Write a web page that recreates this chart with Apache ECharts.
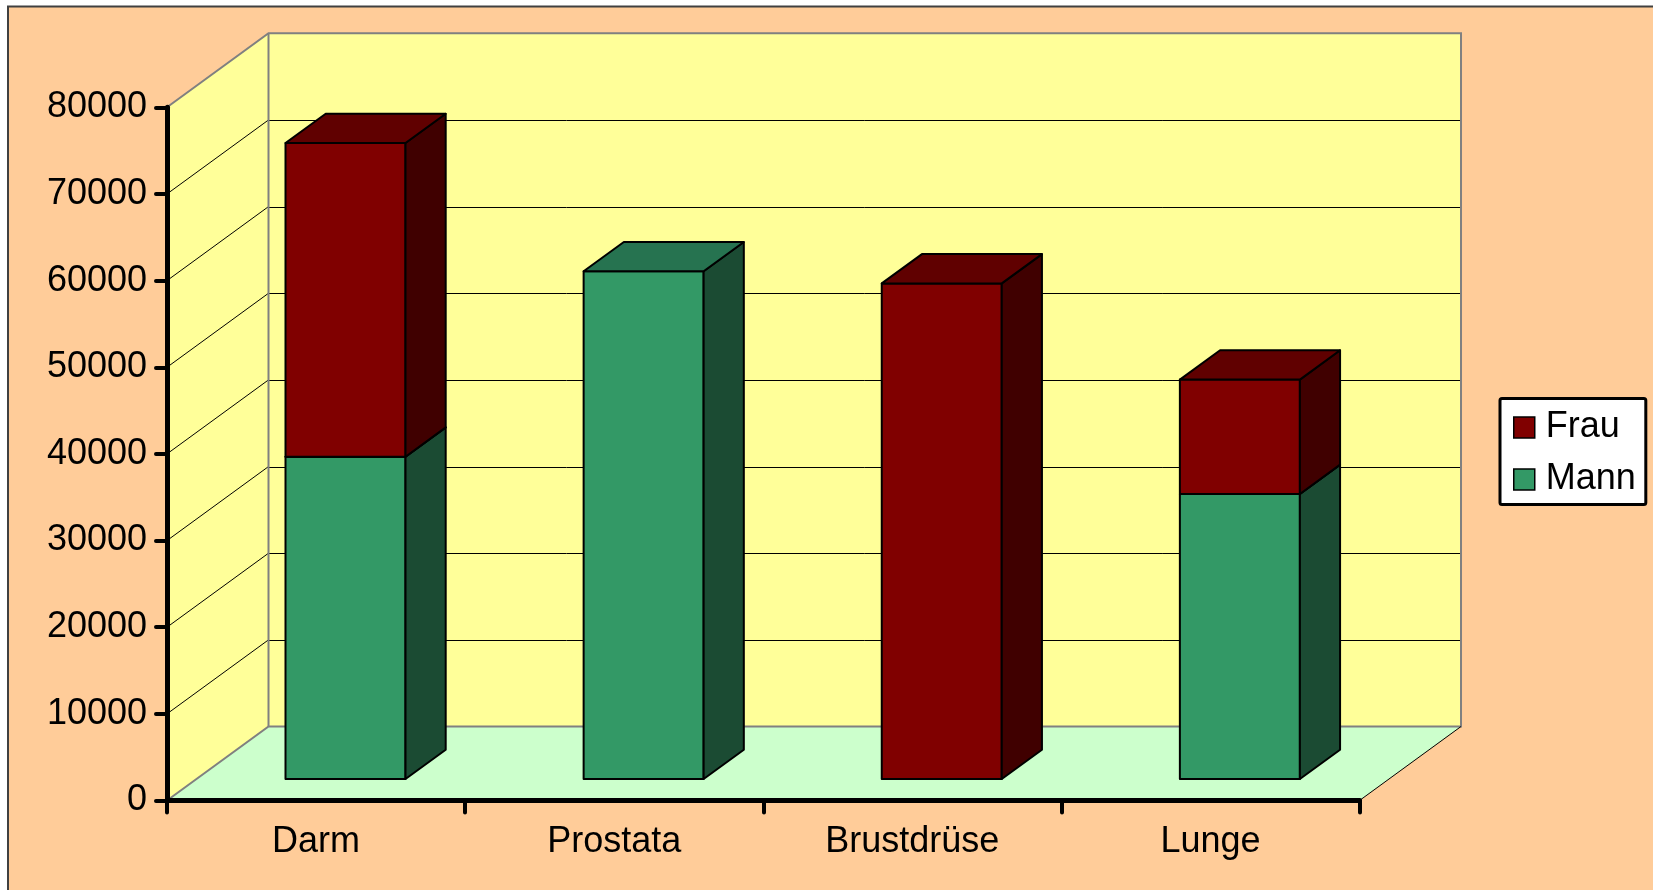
<!DOCTYPE html>
<html>
<head>
<meta charset="utf-8">
<script src="https://cdn.jsdelivr.net/npm/echarts@6/dist/echarts.min.js"></script>
<style>
  html, body { margin: 0; padding: 0; background: #ffffff; }
  #chart { width: 1653px; height: 890px; }
</style>
</head>
<body>
<div id="chart"></div>
<script>
// ---- data ----
const categories = ['Darm', 'Prostata', 'Brustdrüse', 'Lunge'];
const mann = [37200, 58600, 0, 32900];
const frau = [36200, 0, 57200, 13200];
const seriesNames = ['Frau', 'Mann'];
const yAxisMax = 80000;
const yAxisStep = 10000;

// ---- styling (3D look) ----
const FONT = 'Liberation Sans, Arial, sans-serif';
const DEPTH_X = 0.3405;   // depth offset as fraction of category band width
const DEPTH_Y = -0.2482;
const BAR_FRONT = 0.29;   // bar front plane (fraction of depth)
const BAR_DEPTH = 0.396;  // bar depth (fraction of depth)
const BAR_WIDTH = 0.4025; // bar width as fraction of band width
const COLORS = {
  Mann: { front: '#339966', side: '#1B4B33', top: '#267350' },
  Frau: { front: '#800000', side: '#400000', top: '#600000' }
};

const chart = echarts.init(document.getElementById('chart'), null, { renderer: 'canvas' });

function px(v) { return Math.round(v) + 0.5; }

function wallsRender(params, api) {
  const bw = api.size([1, 0])[0];
  const c0 = api.coord([0, 0]);
  const x0 = c0[0] - bw / 2;
  const x1 = x0 + bw * categories.length;
  const yb = c0[1];
  const yt = api.coord([0, yAxisMax])[1];
  const dx = DEPTH_X * bw, dy = DEPTH_Y * bw;
  const children = [];
  children.push({ type: 'polygon', shape: { points: [[x0, yb], [x0, yt], [x0 + dx, yt + dy], [x0 + dx, yb + dy]] },
    style: { fill: '#FFFF99', stroke: null } });
  children.push({ type: 'polygon', shape: { points: [[x0 + dx, yt + dy], [x1 + dx, yt + dy], [x1 + dx, yb + dy], [x0 + dx, yb + dy]] },
    style: { fill: '#FFFF99', stroke: null } });
  children.push({ type: 'polygon', shape: { points: [[x0, yb], [x1, yb], [x1 + dx, yb + dy], [x0 + dx, yb + dy]] },
    style: { fill: '#CCFFCC', stroke: null } });
  for (let v = yAxisStep; v < yAxisMax; v += yAxisStep) {
    const y = api.coord([0, v])[1];
    children.push({ type: 'line', shape: { x1: x0 + dx, y1: px(y + dy), x2: x1 + dx, y2: px(y + dy) },
      style: { stroke: '#000000', lineWidth: 1 } });
    children.push({ type: 'line', shape: { x1: x0, y1: y, x2: x0 + dx, y2: y + dy },
      style: { stroke: '#000000', lineWidth: 1 } });
  }
  const gray = { stroke: '#808080', lineWidth: 2, fill: null };
  children.push({ type: 'polyline', shape: { points: [[x0, yt], [x0 + dx, yt + dy], [x1 + dx, yt + dy], [x1 + dx, yb + dy], [x0 + dx, yb + dy], [x0, yb]] }, style: gray });
  children.push({ type: 'line', shape: { x1: x0 + dx, y1: yt + dy, x2: x0 + dx, y2: yb + dy }, style: gray });
  children.push({ type: 'line', shape: { x1: x1, y1: yb, x2: x1 + dx, y2: yb + dy }, style: { stroke: '#000000', lineWidth: 1 } });
  return { type: 'group', children: children };
}

function barRender(colors) {
  return function (params, api) {
    const idx = api.value(0), lo = api.value(1), hi = api.value(2);
    if (!(hi > lo)) return null;
    const bw = api.size([1, 0])[0];
    const dxAll = DEPTH_X * bw, dyAll = DEPTH_Y * bw;
    const pLo = api.coord([idx, lo]);
    const pHi = api.coord([idx, hi]);
    const cx = pLo[0] + BAR_FRONT * dxAll;
    const yLo = pLo[1] + BAR_FRONT * dyAll;
    const yHi = pHi[1] + BAR_FRONT * dyAll;
    const w = BAR_WIDTH * bw;
    const xl = cx - w / 2, xr = cx + w / 2;
    const dx = BAR_DEPTH * dxAll, dy = BAR_DEPTH * dyAll;
    const edge = { stroke: '#000000', lineWidth: 2, lineJoin: 'round' };
    return {
      type: 'group',
      children: [
        { type: 'polygon', shape: { points: [[xl, yLo], [xr, yLo], [xr, yHi], [xl, yHi]] },
          style: Object.assign({ fill: colors.front }, edge) },
        { type: 'polygon', shape: { points: [[xr, yLo], [xr, yHi], [xr + dx, yHi + dy], [xr + dx, yLo + dy]] },
          style: Object.assign({ fill: colors.side }, edge) },
        { type: 'polygon', shape: { points: [[xl, yHi], [xr, yHi], [xr + dx, yHi + dy], [xl + dx, yHi + dy]] },
          style: Object.assign({ fill: colors.top }, edge) }
      ]
    };
  };
}

const mannData = categories.map((c, i) => [i, 0, mann[i]]);
const frauData = categories.map((c, i) => [i, mann[i], mann[i] + frau[i]]);

const option = {
  backgroundColor: '#ffffff',
  animation: false,
  graphic: [{
    type: 'rect', z: -100, silent: true,
    shape: { x: 8, y: 6.5, width: 1700, height: 1000 },
    style: { fill: '#FFCC99', stroke: '#404040', lineWidth: 2 }
  }],
  grid: { left: 167, top: 107.3, width: 1192.5, height: 693.2, containLabel: false },
  legend: {
    data: seriesNames,
    orient: 'vertical',
    left: 1500, top: 398.5,
    padding: [11, 10, 7, 13],
    itemGap: 16,
    itemWidth: 21, itemHeight: 21,
    icon: 'rect',
    backgroundColor: '#ffffff',
    borderColor: '#000000', borderWidth: 3, borderRadius: 2,
    itemStyle: { borderColor: '#000000', borderWidth: 1.5 },
    textStyle: { fontFamily: FONT, fontSize: 36, color: '#000000', padding: [0, 0, 0, 6] }
  },
  xAxis: {
    type: 'category', data: categories, z: 10,
    axisLine: { lineStyle: { color: '#000000', width: 5 } },
    axisTick: { show: true, length: 12, lineStyle: { color: '#000000', width: 4, cap: 'round' } },
    axisLabel: { fontFamily: FONT, fontSize: 36, color: '#000000', margin: 24 },
    splitLine: { show: false }
  },
  yAxis: {
    type: 'value', min: 0, max: yAxisMax, interval: yAxisStep, z: 10,
    axisLine: { show: true, lineStyle: { color: '#000000', width: 5 } },
    axisTick: { show: true, length: 11, lineStyle: { color: '#000000', width: 4, cap: 'round' } },
    axisLabel: { fontFamily: FONT, fontSize: 36, color: '#000000', margin: 20,
      formatter: function (v) { return String(v); } },
    splitLine: { show: false }
  },
  series: [
    { name: '_walls', type: 'custom', z: 1, silent: true, clip: false,
      renderItem: wallsRender, data: [[0, 0]], encode: { x: 0, y: 1 } },
    { name: 'Mann', type: 'custom', z: 3, clip: false, itemStyle: { color: COLORS.Mann.front },
      renderItem: barRender(COLORS.Mann), data: mannData, encode: { x: 0, y: [1, 2] } },
    { name: 'Frau', type: 'custom', z: 3, clip: false, itemStyle: { color: COLORS.Frau.front },
      renderItem: barRender(COLORS.Frau), data: frauData, encode: { x: 0, y: [1, 2] } }
  ]
};
chart.setOption(option);
</script>
</body>
</html>
